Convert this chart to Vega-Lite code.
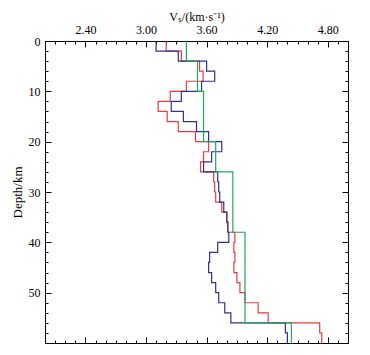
{
  "$schema": "https://vega.github.io/schema/vega-lite/v6.json",
  "width": 303,
  "height": 302,
  "autosize": "none",
  "padding": {"left": 45, "top": 41, "right": 22, "bottom": 12},
  "background": "white",
  "view": {"stroke": "black", "strokeWidth": 1},
  "config": {
    "axis": {"domainColor": "black", "tickColor": "black", "labelColor": "black", "titleColor": "black", "grid": false, "labelFont": "Liberation Serif", "titleFont": "Liberation Serif", "labelFontSize": 12, "titleFontSize": 13, "titleFontWeight": "normal", "labelOverlap": false, "labelFlush": false}
  },
  "data": {"values": [
    {"series": "red", "depth": 0, "vs": 3.20},
    {"series": "red", "depth": 2, "vs": 3.35},
    {"series": "red", "depth": 4, "vs": 3.53},
    {"series": "red", "depth": 6, "vs": 3.565},
    {"series": "red", "depth": 8, "vs": 3.40},
    {"series": "red", "depth": 10, "vs": 3.24},
    {"series": "red", "depth": 12, "vs": 3.12},
    {"series": "red", "depth": 14, "vs": 3.21},
    {"series": "red", "depth": 16, "vs": 3.32},
    {"series": "red", "depth": 18, "vs": 3.49},
    {"series": "red", "depth": 20, "vs": 3.62},
    {"series": "red", "depth": 22, "vs": 3.57},
    {"series": "red", "depth": 24, "vs": 3.54},
    {"series": "red", "depth": 26, "vs": 3.67},
    {"series": "red", "depth": 28, "vs": 3.68},
    {"series": "red", "depth": 30, "vs": 3.69},
    {"series": "red", "depth": 32, "vs": 3.75},
    {"series": "red", "depth": 34, "vs": 3.80},
    {"series": "red", "depth": 36, "vs": 3.81},
    {"series": "red", "depth": 38, "vs": 3.88},
    {"series": "red", "depth": 40, "vs": 3.87},
    {"series": "red", "depth": 42, "vs": 3.88},
    {"series": "red", "depth": 44, "vs": 3.87},
    {"series": "red", "depth": 46, "vs": 3.90},
    {"series": "red", "depth": 48, "vs": 3.93},
    {"series": "red", "depth": 50, "vs": 3.98},
    {"series": "red", "depth": 52, "vs": 4.11},
    {"series": "red", "depth": 54, "vs": 4.21},
    {"series": "red", "depth": 56, "vs": 4.72},
    {"series": "red", "depth": 58, "vs": 4.74},
    {"series": "red", "depth": 60, "vs": 4.74},
    {"series": "blue", "depth": 0, "vs": 3.10},
    {"series": "blue", "depth": 2, "vs": 3.32},
    {"series": "blue", "depth": 4, "vs": 3.60},
    {"series": "blue", "depth": 6, "vs": 3.68},
    {"series": "blue", "depth": 8, "vs": 3.55},
    {"series": "blue", "depth": 10, "vs": 3.35},
    {"series": "blue", "depth": 12, "vs": 3.25},
    {"series": "blue", "depth": 14, "vs": 3.37},
    {"series": "blue", "depth": 16, "vs": 3.50},
    {"series": "blue", "depth": 18, "vs": 3.62},
    {"series": "blue", "depth": 20, "vs": 3.75},
    {"series": "blue", "depth": 22, "vs": 3.65},
    {"series": "blue", "depth": 24, "vs": 3.57},
    {"series": "blue", "depth": 26, "vs": 3.71},
    {"series": "blue", "depth": 28, "vs": 3.72},
    {"series": "blue", "depth": 30, "vs": 3.73},
    {"series": "blue", "depth": 32, "vs": 3.77},
    {"series": "blue", "depth": 34, "vs": 3.80},
    {"series": "blue", "depth": 36, "vs": 3.81},
    {"series": "blue", "depth": 38, "vs": 3.82},
    {"series": "blue", "depth": 40, "vs": 3.71},
    {"series": "blue", "depth": 42, "vs": 3.63},
    {"series": "blue", "depth": 44, "vs": 3.62},
    {"series": "blue", "depth": 46, "vs": 3.65},
    {"series": "blue", "depth": 48, "vs": 3.69},
    {"series": "blue", "depth": 50, "vs": 3.72},
    {"series": "blue", "depth": 52, "vs": 3.78},
    {"series": "blue", "depth": 54, "vs": 3.84},
    {"series": "blue", "depth": 56, "vs": 4.38},
    {"series": "blue", "depth": 58, "vs": 4.40},
    {"series": "blue", "depth": 60, "vs": 4.40},
    {"series": "green", "depth": 0, "vs": 3.40},
    {"series": "green", "depth": 4, "vs": 3.51},
    {"series": "green", "depth": 10, "vs": 3.57},
    {"series": "green", "depth": 20, "vs": 3.69},
    {"series": "green", "depth": 26, "vs": 3.86},
    {"series": "green", "depth": 38, "vs": 3.98},
    {"series": "green", "depth": 56, "vs": 4.44},
    {"series": "green", "depth": 60, "vs": 4.44}
  ]},
  "layer": [
    {
      "transform": [{"filter": "datum.series == 'red'"}],
      "mark": {"type": "line", "interpolate": "step-before", "color": "#ec3a3f", "strokeWidth": 1.2},
      "encoding": {
        "x": {"field": "vs", "type": "quantitative", "scale": {"domain": [2, 5], "nice": false, "zero": false},
          "axis": {"orient": "top", "values": [2.1,2.2,2.3,2.4,2.5,2.6,2.7,2.8,2.9,3.0,3.1,3.2,3.3,3.4,3.5,3.6,3.7,3.8,3.9,4.0,4.1,4.2,4.3,4.4,4.5,4.6,4.7,4.8,4.9],
            "tickSize": {"condition": {"test": "round(datum.value*10) % 6 == 0", "value": -6}, "value": -3},
            "labelExpr": "round(datum.value*10) % 6 == 0 ? format(datum.value, '.2f') : ''",
            "labelPadding": 11, "title": "Vₛ/(km·s⁻¹)", "titleFontSize": 12, "titlePadding": -3}},
        "y": {"field": "depth", "type": "quantitative", "scale": {"domain": [0, 60], "nice": false, "reverse": true},
          "axis": {"orient": "left", "values": [0,2,4,6,8,10,12,14,16,18,20,22,24,26,28,30,32,34,36,38,40,42,44,46,48,50,52,54,56,58],
            "tickSize": {"condition": {"test": "datum.value % 10 == 0", "value": -6}, "value": -3},
            "labelExpr": "datum.value % 10 == 0 ? datum.value : ''",
            "labelPadding": 11, "title": "Depth/km", "titlePadding": 4}},
        "order": {"field": "depth"}
      }
    },
    {
      "transform": [{"filter": "datum.series == 'blue'"}],
      "mark": {"type": "line", "interpolate": "step-before", "color": "#2e3192", "strokeWidth": 1.2},
      "encoding": {
        "x": {"field": "vs", "type": "quantitative",
          "axis": {"orient": "bottom", "values": [2.1,2.2,2.3,2.4,2.5,2.6,2.7,2.8,2.9,3.0,3.1,3.2,3.3,3.4,3.5,3.6,3.7,3.8,3.9,4.0,4.1,4.2,4.3,4.4,4.5,4.6,4.7,4.8,4.9],
            "tickSize": {"condition": {"test": "round(datum.value*10) % 6 == 0", "value": -6}, "value": -3},
            "labels": false, "title": null}},
        "y": {"field": "depth", "type": "quantitative",
          "axis": {"orient": "right", "values": [2,4,6,8,10,12,14,16,18,20,22,24,26,28,30,32,34,36,38,40,42,44,46,48,50,52,54,56,58],
            "tickSize": {"condition": {"test": "datum.value % 10 == 0", "value": -6}, "value": -3},
            "labels": false, "title": null}},
        "order": {"field": "depth"}
      }
    },
    {
      "transform": [{"filter": "datum.series == 'green'"}],
      "mark": {"type": "line", "interpolate": "step-before", "color": "#1dab5a", "strokeWidth": 1.2},
      "encoding": {
        "x": {"field": "vs", "type": "quantitative", "axis": null},
        "y": {"field": "depth", "type": "quantitative", "axis": null},
        "order": {"field": "depth"}
      }
    }
  ],
  "resolve": {"axis": {"x": "independent", "y": "independent"}}
}
